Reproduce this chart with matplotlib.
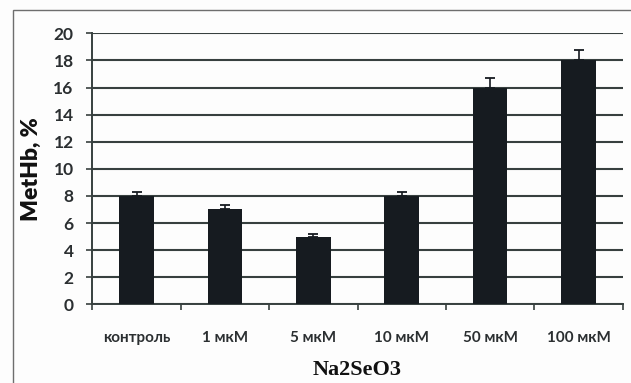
import matplotlib
matplotlib.use("Agg")
import matplotlib.pyplot as plt
from matplotlib.patches import Rectangle
import numpy as np

# Methemoglobin level by sodium selenite concentration
categories = ["контроль", "1 мкМ", "5 мкМ", "10 мкМ", "50 мкМ", "100 мкМ"]
methb = [8, 7, 5, 8, 16, 18]
err_upper = [0.3, 0.3, 0.2, 0.3, 0.7, 0.8]
yticks = [0, 2, 4, 6, 8, 10, 12, 14, 16, 18, 20]

ink = "#161b20"
grid_c = "#37403f"
text_c = "#2b2f31"

fig = plt.figure(figsize=(6.31, 3.83), dpi=100)
fig.patch.set_facecolor("#fdfdfd")

# outer frame of the chart area
fig.add_artist(Rectangle((12.5 / 631, -0.05), 1.0, 1 - 10.5 / 383 + 0.05,
                         transform=fig.transFigure, fill=False,
                         edgecolor="#6e6e6e", linewidth=1.0))

ax = fig.add_axes([92.3 / 631, 1 - 304.3 / 383, (622.7 - 92.3) / 631,
                   (304.3 - 33.3) / 383])
ax.set_facecolor("#fdfdfd")

x = np.arange(len(categories))
ax.bar(x, methb, width=0.39, color=ink, zorder=3)
ax.errorbar(x, methb, yerr=[np.zeros(len(x)), err_upper], fmt="none",
            ecolor=ink, elinewidth=1.2, capsize=3.3, capthick=1.3, zorder=4)

ax.set_ylim(0, 20)
ax.set_xlim(-0.5, len(categories) - 0.5)
ax.set_yticks(yticks)
ax.yaxis.grid(True, color=grid_c, linewidth=1.5, zorder=0)
ax.set_axisbelow(True)

for s in ("top", "right"):
    ax.spines[s].set_visible(False)
for s in ("left", "bottom"):
    ax.spines[s].set_color(grid_c)
    ax.spines[s].set_linewidth(1.4)

# category boundaries carry the ticks, centres carry the labels
ax.set_xticks(np.arange(len(categories) + 1) - 0.5)
ax.set_xticklabels([])
ax.set_xticks(x, minor=True)
ax.set_xticklabels(categories, minor=True, fontfamily="Lato",
                   fontsize=11, fontweight="bold", color=text_c)
ax.tick_params(axis="x", which="major", direction="out", length=4,
               width=1.2, color=grid_c)
ax.tick_params(axis="x", which="minor", length=0, pad=19)
ax.tick_params(axis="y", direction="out", length=4.5, width=1.2,
               color=grid_c, pad=9)
for lab in ax.get_yticklabels():
    lab.set_fontfamily("Lato")
    lab.set_fontweight("bold")
    lab.set_fontsize(12.5)
    lab.set_color(text_c)

ax.set_ylabel("MetHb, %", fontfamily="Lato", fontweight="heavy",
              fontsize=16.5, color="#111111", labelpad=8)
ax.set_xlabel("Na2SeO3", fontfamily="Liberation Serif", fontweight="bold",
              fontsize=16, color="#111111", labelpad=11)

fig.savefig("out.png", dpi=100, facecolor=fig.get_facecolor())
